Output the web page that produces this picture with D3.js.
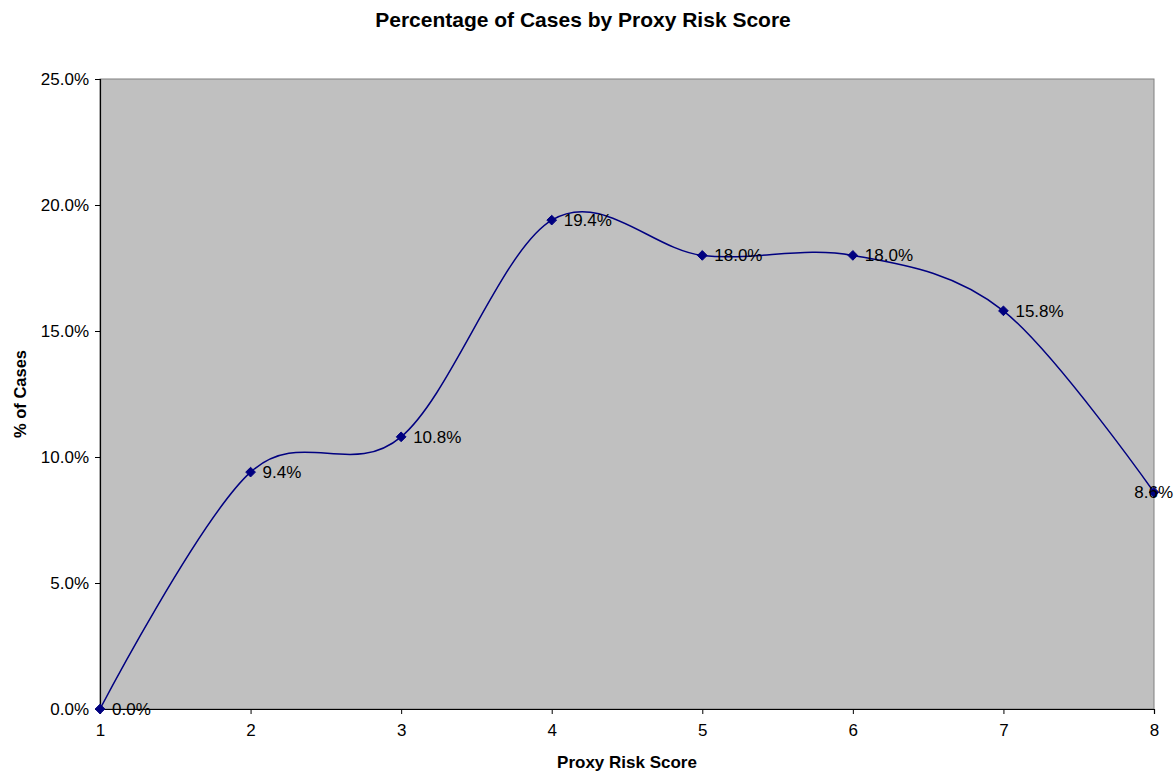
<!DOCTYPE html>
<html><head><meta charset="utf-8">
<script src="https://cdn.jsdelivr.net/npm/d3@7"></script>
<style>body{margin:0;background:#fff;font-family:"Liberation Sans",Arial,sans-serif;}</style>
</head><body><svg id="c" width="1174" height="772"></svg>
<script>
const categories = [1, 2, 3, 4, 5, 6, 7, 8];
const values = [0.0, 9.4, 10.8, 19.4, 18.0, 18.0, 15.8, 8.6];
const yTicks = [0, 5, 10, 15, 20, 25];
const title = "Percentage of Cases by Proxy Risk Score";
const xTitle = "Proxy Risk Score";
const yTitle = "% of Cases";

const W = 1174, H = 772;
const m = {left: 100, right: 20, top: 79, bottom: 63};
const svg = d3.select("#c");
const x = d3.scaleLinear().domain([1, 8]).range([m.left, W - m.right]);
const y = d3.scaleLinear().domain([0, 25]).range([H - m.bottom, m.top]);

svg.append("rect").attr("x", m.left).attr("y", m.top)
  .attr("width", x(8) - m.left).attr("height", y(0) - m.top)
  .attr("fill", "#C0C0C0").attr("stroke", "#808080").attr("stroke-width", 1);

const ya = svg.append("g").attr("transform", `translate(${m.left},0)`)
  .call(d3.axisLeft(y).tickValues(yTicks).tickSize(5).tickPadding(6).tickFormat(d => d.toFixed(1) + "%"));
const xa = svg.append("g").attr("transform", `translate(0,${y(0)})`)
  .call(d3.axisBottom(x).tickValues(categories).tickSize(5).tickPadding(10).tickFormat(d3.format("d")));
[ya, xa].forEach(g => {
  g.select(".domain").attr("stroke", "#000").attr("stroke-width", 1.2);
  g.selectAll(".tick line").attr("stroke", "#000");
  g.selectAll("text").attr("font-size", 17).attr("fill", "#000").attr("font-family", "Liberation Sans, Arial, sans-serif");
});

const data = categories.map((c, i) => ({c, v: values[i]}));
svg.append("path").datum(data)
  .attr("d", d3.line().x(d => x(d.c)).y(d => y(d.v)).curve(d3.curveCardinal.tension(0)))
  .attr("fill", "none").attr("stroke", "#000080").attr("stroke-width", 1.5);

svg.selectAll(".mk").data(data).enter().append("path")
  .attr("transform", d => `translate(${x(d.c)},${y(d.v)})`)
  .attr("d", d3.symbol(d3.symbolDiamond2, 60))
  .attr("fill", "#000080").attr("stroke", "#000080").attr("stroke-width", 1);

const labels = svg.selectAll(".lb").data(data).enter().append("text")
  .attr("x", d => x(d.c) + 12).attr("y", d => y(d.v)).attr("dy", "0.35em")
  .attr("font-size", 17).attr("fill", "#000")
  .text(d => d.v.toFixed(1) + "%");
labels.each(function() {
  const bb = this.getBBox();
  if (bb.x + bb.width > W - 1) d3.select(this).attr("x", W - 1 - bb.width);
});

svg.append("text").attr("x", 583).attr("y", 27).attr("text-anchor", "middle")
  .attr("font-size", 21).attr("font-weight", "bold").text(title);
svg.append("text").attr("x", (m.left + x(8)) / 2).attr("y", 768).attr("text-anchor", "middle")
  .attr("font-size", 17).attr("font-weight", "bold").text(xTitle);
svg.append("text").attr("transform", `translate(26,${(m.top + y(0)) / 2}) rotate(-90)`)
  .attr("text-anchor", "middle").attr("font-size", 16.5).attr("font-weight", "bold").text(yTitle);
</script></body></html>
